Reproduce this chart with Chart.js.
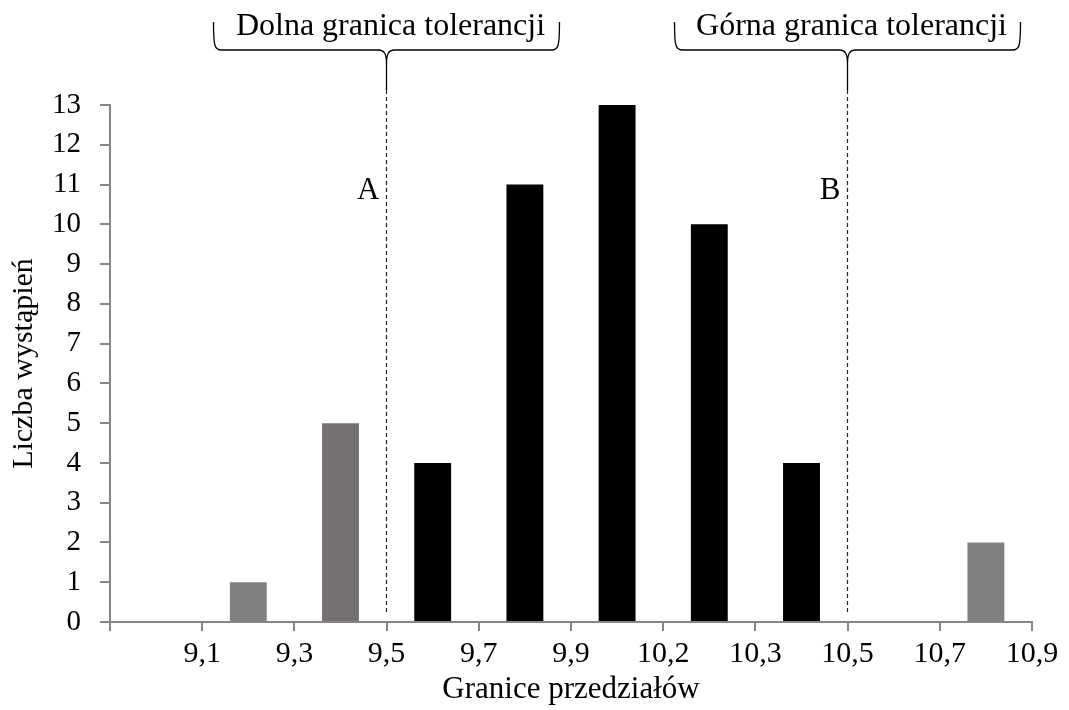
<!DOCTYPE html>
<html lang="pl">

<head>
  <meta charset="UTF-8" />
  <title>Histogram</title>
  <script src="https://cdn.jsdelivr.net/npm/chart.js"></script>
  <style>
    html, body { margin: 0; padding: 0; background: #fff; }
    #wrap { width: 1069px; height: 710px; }
  </style>
</head>

<body>
  <div id="wrap"><canvas id="chart" width="1069" height="710"></canvas></div>

  <script>
    // przedziały (środki słupków) i liczność
    const intervals = ['<9,1', '9,1-9,3', '9,3-9,5', '9,5-9,7', '9,7-9,9', '9,9-10,2', '10,2-10,3', '10,3-10,5', '10,5-10,7', '10,7-10,9'];
    const counts = [0, 1, 5, 4, 11, 13, 10, 4, 0, 2];
    const barColors = ['#808080', '#808080', '#767171', '#000000', '#000000', '#000000', '#000000', '#000000', '#808080', '#808080'];
    // granice przedziałów (etykiety osi X, na liniach podziału)
    const boundaryLabels = ['', '9,1', '9,3', '9,5', '9,7', '9,9', '10,2', '10,3', '10,5', '10,7', '10,9'];
    // granice tolerancji (indeks granicy)
    const limits = [
      { at: 3, letter: 'A', text: 'Dolna granica tolerancji' },
      { at: 8, letter: 'B', text: 'Górna granica tolerancji' }
    ];

    const FONT = "'Liberation Serif', 'Times New Roman', serif";
    const AXIS = '#868686';

    const tolerancePlugin = {
      id: 'tolerance',
      afterDraw(chart) {
        const ctx = chart.ctx;
        const sx = chart.scales.x2;
        const sy = chart.scales.y;
        const tipY = 90, midY = 50, endTop = 22, half = 173;
        limits.forEach(l => {
          const x = Math.round(sx.getPixelForValue(l.at)) - 0.5;
          ctx.save();
          // linia przerywana
          ctx.strokeStyle = '#222';
          ctx.lineWidth = 1.2;
          ctx.setLineDash([4, 3]);
          ctx.beginPath();
          ctx.moveTo(x, tipY);
          ctx.lineTo(x, sy.getPixelForValue(0) - 9);
          ctx.stroke();
          ctx.setLineDash([]);
          // nawias klamrowy
          ctx.strokeStyle = '#000';
          ctx.lineWidth = 1.3;
          ctx.beginPath();
          ctx.moveTo(x - half, endTop);
          ctx.bezierCurveTo(x - half, midY - 4, x - half + 1, midY, x - half + 8, midY);
          ctx.lineTo(x - 8, midY);
          ctx.bezierCurveTo(x - 2, midY, x, midY + 4, x, midY + 14);
          ctx.lineTo(x, tipY);
          ctx.moveTo(x, midY + 14);
          ctx.bezierCurveTo(x, midY + 4, x + 2, midY, x + 8, midY);
          ctx.lineTo(x + half - 8, midY);
          ctx.bezierCurveTo(x + half - 1, midY, x + half, midY - 4, x + half, endTop);
          ctx.stroke();
          // opisy
          ctx.fillStyle = '#000';
          ctx.font = '32px ' + FONT;
          ctx.textAlign = 'center';
          ctx.textBaseline = 'alphabetic';
          ctx.fillText(l.text, x + 4, 35);
          ctx.font = '31px ' + FONT;
          ctx.textAlign = 'right';
          ctx.fillText(l.letter, x - 7, 199);
          ctx.restore();
        });
      }
    };

    new Chart(document.getElementById('chart'), {
      type: 'bar',
      data: {
        labels: intervals,
        datasets: [{
          data: counts,
          backgroundColor: barColors,
          borderWidth: 0,
          barPercentage: 0.4,
          categoryPercentage: 1
        }]
      },
      options: {
        responsive: false,
        animation: false,
        layout: { padding: { top: 105, right: 37, left: 0, bottom: 0 } },
        plugins: { legend: { display: false }, tooltip: { enabled: false } },
        scales: {
          x: { display: false, offset: true },
          x2: {
            type: 'linear',
            position: 'bottom',
            offset: false,
            min: 0,
            max: 10,
            ticks: {
              stepSize: 1,
              color: '#000',
              font: { family: FONT, size: 30 },
              padding: 5,
              maxRotation: 0,
              autoSkip: false,
              callback: v => boundaryLabels[v]
            },
            grid: { offset: false, drawOnChartArea: false, tickLength: 9, color: AXIS, lineWidth: 2 },
            border: { color: AXIS, width: 2 },
            title: {
              display: true,
              text: 'Granice przedziałów',
              color: '#000',
              font: { family: FONT, size: 31 },
              padding: { top: 0, bottom: 2 }
            },
            afterFit: s => { s.height = 88; }
          },
          y: {
            min: 0,
            max: 13,
            ticks: {
              stepSize: 1,
              color: '#000',
              font: { family: FONT, size: 29 },
              padding: 19
            },
            grid: { drawOnChartArea: false, tickLength: 10, color: AXIS, lineWidth: 2 },
            border: { color: AXIS, width: 2 },
            title: {
              display: true,
              text: 'Liczba wystąpień',
              color: '#000',
              font: { family: FONT, size: 30 },
              padding: { top: 6, bottom: 0 }
            },
            afterFit: s => { s.width = 110; }
          }
        }
      },
      plugins: [tolerancePlugin]
    });
  </script>
</body>

</html>
